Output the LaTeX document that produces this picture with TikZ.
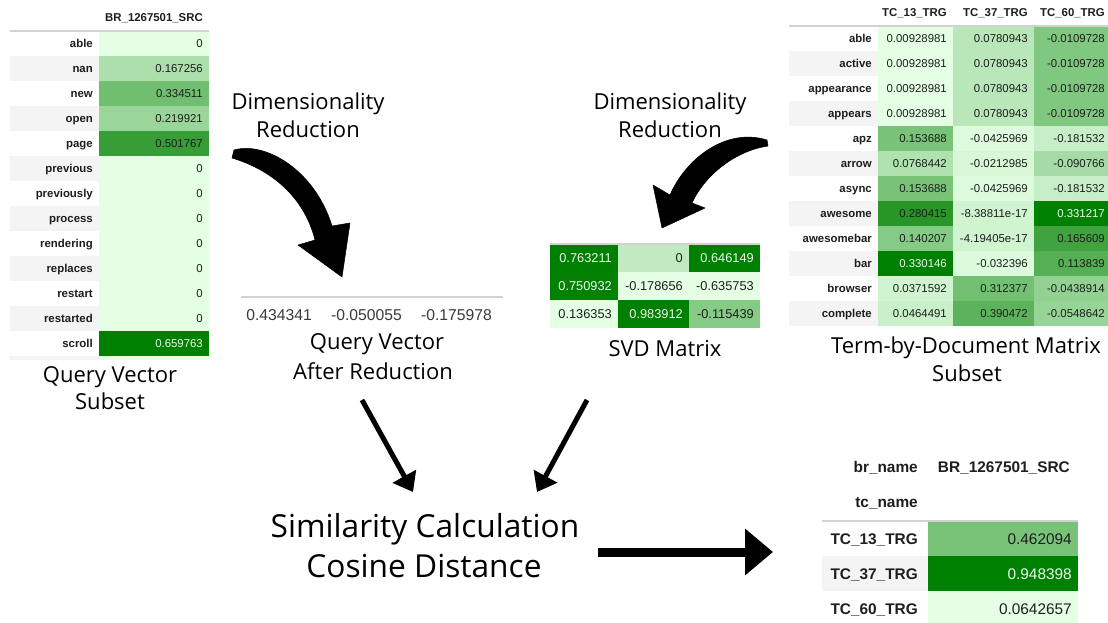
\documentclass[tikz,border=0pt]{standalone}
\usepackage{fontspec}
\setmainfont{Liberation Sans}
\newfontfamily\capfont{Open Sans}
\usetikzlibrary{arrows.meta}

\definecolor{hmlo}{HTML}{E5FFE5}
\definecolor{hmhi}{HTML}{008000}
\definecolor{rowgray}{HTML}{F4F4F4}
\definecolor{rulegray}{HTML}{D2D2D2}
\definecolor{ink}{HTML}{1E1E1E}
\definecolor{paleink}{HTML}{EEF8EE}
\definecolor{vecink}{HTML}{3A3A3A}
\colorlet{cellink}{ink}

% one heat-map cell: x0, x1, ytop, ybottom, shade (percent), text, node name, font style
\newcommand\hmcell[8]{%
  \fill[hmhi!#5!hmlo] (#1,#3) rectangle (#2,#4);
  \pgfmathtruncatemacro\hmdark{#5>90}%
  \ifnum\hmdark=1 \colorlet{cellink}{paleink}\else\colorlet{cellink}{ink}\fi
  \pgfmathsetmacro\hmmid{(#3+#4)/2}%
  \pgfmathsetmacro\hmx{#2-6}%
  \node[#8, text=cellink] (#7) at (\hmx,\hmmid) {#6};%
}

\begin{document}
\begin{tikzpicture}[x=1pt,y=-1pt,
  lbl/.style={font=\fontsize{11.4}{12}\selectfont\bfseries, text=ink, inner sep=0pt,
    text height=8.2pt, text depth=0pt, anchor=east},
  val/.style={font=\fontsize{11.4}{12}\selectfont, inner sep=0pt,
    text height=8.2pt, text depth=0pt, anchor=east},
  svdval/.style={font=\fontsize{12.8}{13}\selectfont, inner sep=0pt,
    text height=9.2pt, text depth=0pt, anchor=east},
  bigval/.style={font=\fontsize{15.4}{16}\selectfont, inner sep=0pt,
    text height=11pt, text depth=0pt, anchor=east},
  biglbl/.style={font=\fontsize{15.4}{16}\selectfont\bfseries, text=ink, inner sep=0pt,
    text height=11pt, text depth=0pt, anchor=east},
  vecval/.style={font=\fontsize{15.7}{16}\selectfont, text=vecink, inner sep=0pt,
    text height=11.2pt, text depth=0pt, anchor=east},
  caption/.style={font=\capfont\fontsize{22}{23}\selectfont, text=black, inner sep=0pt,
    text height=15.6pt, text depth=0pt},
  bigcaption/.style={font=\capfont\fontsize{31.7}{33}\selectfont, text=black, inner sep=0pt,
    text height=22.5pt, text depth=0pt},
  tablerule/.style={rulegray, line width=1.6pt},
  thinarrow/.style={line width=5pt, -{Triangle[length=18pt,width=26pt]}},
  mainarrow/.style={line width=9pt, -{Triangle[length=28pt,width=45pt]}},
  curvearrow/.style={fill=black, draw=black, line width=0.5pt, line join=round}
]
\useasboundingbox (0,0) rectangle (1108,623);
\fill[white] (0,0) rectangle (1108,623);

% ---------------- query vector subset ----------------
\foreach \lab/\val/\pct [count=\i from 0] in {
  able/0/0, nan/0.167256/25, new/0.334511/51, open/0.219921/33,
  page/0.501767/76, previous/0/0, previously/0/0, process/0/0,
  rendering/0/0, replaces/0/0, restart/0/0, restarted/0/0,
  scroll/0.659763/100}{
  \pgfmathsetmacro\yt{31+25*\i}
  \pgfmathsetmacro\yb{\yt+25}
  \pgfmathsetmacro\ym{\yt+12.5}
  \ifodd\i\relax \fill[rowgray] (10,\yt) rectangle (99,\yb); \fi
  \node[lbl] (ql\i) at (93,\ym) {\lab};
  \hmcell{99}{209}{\yt}{\yb}{\pct}{\val}{qv\i}{val}
}
\fill[rowgray] (10,356) rectangle (99,360);
\fill[hmlo] (99,356) rectangle (209,360);
\draw[tablerule] (10,31) -- (209,31);
\node[lbl] (qhead) at (203,17) {BR\_1267501\_SRC};

\node[caption] (qcapa) at (110,375) {Query Vector};
\node[caption] (qcapb) at (110,402) {Subset};

% ---------------- term-by-document matrix subset ----------------
\foreach \lab/\va/\pa/\vb/\pb/\vc/\pc [count=\i from 0] in {
  able/0.00928981/0/0.0780943/19/-0.0109728/44,
  active/0.00928981/0/0.0780943/19/-0.0109728/44,
  appearance/0.00928981/0/0.0780943/19/-0.0109728/44,
  appears/0.00928981/0/0.0780943/19/-0.0109728/44,
  apz/0.153688/47/-0.0425969/3/-0.181532/13,
  arrow/0.0768442/23/-0.0212985/6/-0.090766/28,
  async/0.153688/47/-0.0425969/3/-0.181532/13,
  awesome/0.280415/83/-8.38811e-17/9/0.331217/100,
  awesomebar/0.140207/42/-4.19405e-17/9/0.165609/72,
  bar/0.330146/100/-0.032396/4/0.113839/63,
  browser/0.0371592/9/0.312377/50/-0.0438914/36,
  complete/0.0464491/12/0.390472/60/-0.0548642/34}{
  \pgfmathsetmacro\yt{26+25*\i}
  \pgfmathsetmacro\yb{\yt+25}
  \pgfmathsetmacro\ym{\yt+12.5}
  \ifodd\i\relax \fill[rowgray] (789,\yt) rectangle (878,\yb); \fi
  \node[lbl] (tl\i) at (872,\ym) {\lab};
  \hmcell{878}{953}{\yt}{\yb}{\pa}{\va}{ta\i}{val}
  \hmcell{953}{1034}{\yt}{\yb}{\pb}{\vb}{tb\i}{val}
  \hmcell{1034}{1111}{\yt}{\yb}{\pc}{\vc}{tc\i}{val}
}
\draw[tablerule] (789,26) -- (1108,26);
\node[lbl] (th1) at (947,12) {TC\_13\_TRG};
\node[lbl] (th2) at (1028,12) {TC\_37\_TRG};
\node[lbl] (th3) at (1105,12) {TC\_60\_TRG};

\node[caption] (tcapa) at (966,346) {Term-by-Document Matrix};
\node[caption] (tcapb) at (967,374) {Subset};

% ---------------- SVD matrix ----------------
\foreach \va/\pa/\vb/\pb/\vc/\pc [count=\i from 0] in {
  0.763211/100/0/16/0.646149/100,
  0.750932/99/-0.178656/0/-0.635753/0,
  0.136353/0/0.983912/100/-0.115439/42}{
  \pgfmathsetmacro\yt{244+28*\i}
  \pgfmathsetmacro\yb{\yt+28}
  \hmcell{550}{618}{\yt}{\yb}{\pa}{\va}{sa\i}{svdval}
  \hmcell{618}{689}{\yt}{\yb}{\pb}{\vb}{sb\i}{svdval}
  \hmcell{689}{760}{\yt}{\yb}{\pc}{\vc}{sc\i}{svdval}
}
\draw[tablerule] (550,244) -- (760,244);
\node[caption] (svdcap) at (665,349) {SVD Matrix};

% ---------------- reduced query vector ----------------
\draw[rulegray, line width=1.6pt] (241,297) -- (503,297);
\node[vecval] (rv1) at (312,315) {0.434341};
\node[vecval] (rv2) at (402,315) {-0.050055};
\node[vecval] (rv3) at (492,315) {-0.175978};
\node[caption] (rcapa) at (377,342) {Query Vector};
\node[caption] (rcapb) at (373,372) {After Reduction};

% ---------------- dimensionality reduction labels and arrows ----------------
\node[caption] (dra) at (308,102) {Dimensionality};
\node[caption] (drb) at (308,130) {Reduction};
\node[caption] (dsa) at (670,102) {Dimensionality};
\node[caption] (dsb) at (670,130) {Reduction};

\coordinate (lqtail) at (233,154);
\coordinate (lqtip) at (342,277);
\fill[curvearrow] (234,150) .. controls (265,141) and (315,170) .. (332,226)
  -- (350,223) -- (lqtip) -- (298,245) -- (315,240)
  .. controls (305,200) and (275,171) .. (232,158) -- cycle;

\coordinate (svtail) at (767,143);
\coordinate (svtip) at (662,228);
\fill[curvearrow] (767,140) .. controls (725,127) and (685,160) .. (670,195)
  -- (653,185) -- (svtip) -- (705,208) -- (692,203)
  .. controls (705,175) and (735,151) .. (768,146) -- cycle;

% ---------------- similarity step ----------------
\node[bigcaption] (simcapa) at (425,526) {Similarity Calculation};
\node[bigcaption] (simcapb) at (424,566) {Cosine Distance};

\coordinate (qin) at (362,400);
\coordinate (qout) at (413,492);
\coordinate (sin) at (587,400);
\coordinate (sout) at (537,492);
\draw[thinarrow] (qin) -- (qout);
\draw[thinarrow] (sin) -- (sout);

\coordinate (resin) at (598,552);
\coordinate (resout) at (773,552);
\draw[mainarrow] (resin) -- (resout);

% ---------------- result table ----------------
\node[biglbl] (brn) at (918,467) {br\_name};
\node[biglbl] (brv) at (1070,467) {BR\_1267501\_SRC};
\node[biglbl] (tcn) at (918,502) {tc\_name};
\foreach \lab/\val/\pct [count=\i from 0] in {
  TC\_13\_TRG/0.462094/47, TC\_37\_TRG/0.948398/100, TC\_60\_TRG/0.0642657/0}{
  \pgfmathsetmacro\yt{521+35*\i}
  \pgfmathsetmacro\yb{\yt+35}
  \pgfmathsetmacro\ym{\yt+17.5}
  \ifodd\i\relax \fill[rowgray] (822,\yt) rectangle (928,\yb); \fi
  \node[biglbl] (rl\i) at (918,\ym) {\lab};
  \hmcell{928}{1078}{\yt}{\yb}{\pct}{\val}{rs\i}{bigval}
}
\draw[tablerule] (822,521) -- (1078,521);
\end{tikzpicture}
\end{document}
